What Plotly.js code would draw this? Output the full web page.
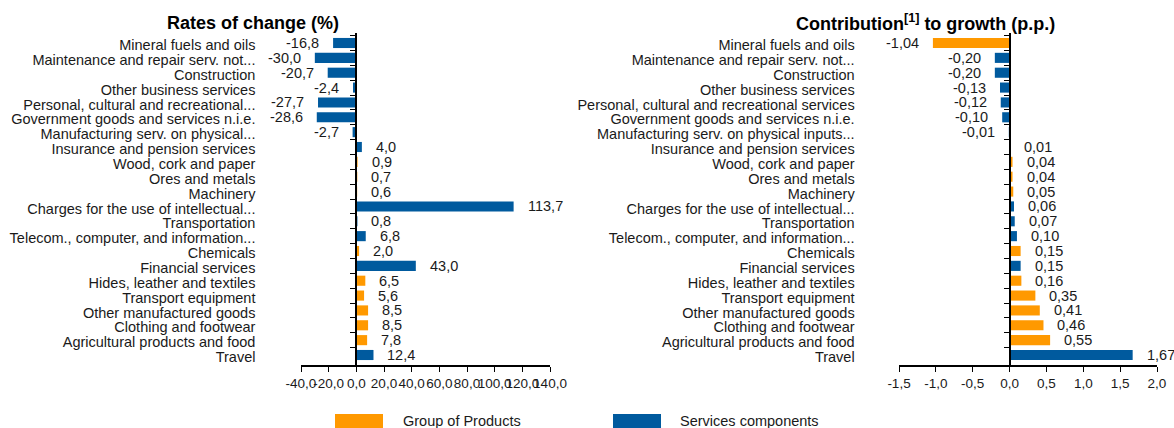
<!DOCTYPE html>
<html><head><meta charset="utf-8">
<script src="https://cdn.plot.ly/plotly-3.0.1.min.js"></script>
<style>html,body{margin:0;padding:0;background:#fff}#chart{width:1174px;height:428px}</style>
</head><body><div id="chart"></div><script>
// ---- data ----
const leftLabels = [
  "Mineral fuels and oils","Maintenance and repair serv. not...","Construction","Other business services",
  "Personal, cultural and recreational...","Government goods and services n.i.e.","Manufacturing serv. on physical...",
  "Insurance and pension services","Wood, cork and paper","Ores and metals","Machinery",
  "Charges for the use of intellectual...","Transportation","Telecom., computer, and information...",
  "Chemicals","Financial services","Hides, leather and textiles","Transport equipment",
  "Other manufactured goods","Clothing and footwear","Agricultural products and food","Travel"];
const rightLabels = [
  "Mineral fuels and oils","Maintenance and repair serv. not...","Construction","Other business services",
  "Personal, cultural and recreational services","Government goods and services n.i.e.","Manufacturing serv. on physical inputs...",
  "Insurance and pension services","Wood, cork and paper","Ores and metals","Machinery",
  "Charges for the use of intellectual...","Transportation","Telecom., computer, and information...",
  "Chemicals","Financial services","Hides, leather and textiles","Transport equipment",
  "Other manufactured goods","Clothing and footwear","Agricultural products and food","Travel"];
const rateValues = [-16.8,-30.0,-20.7,-2.4,-27.7,-28.6,-2.7,4.0,0.9,0.7,0.6,113.7,0.8,6.8,2.0,43.0,6.5,5.6,8.5,8.5,7.8,12.4];
const rateGroups = ["S","S","S","S","S","S","S","S","P","P","P","S","S","S","P","S","P","P","P","P","P","S"];
const contribValues = [-1.04,-0.20,-0.20,-0.13,-0.12,-0.10,-0.01,0.01,0.04,0.04,0.05,0.06,0.07,0.10,0.15,0.15,0.16,0.35,0.41,0.46,0.55,1.67];
const contribGroups = ["P","S","S","S","S","S","S","S","P","P","P","S","S","S","P","S","P","P","P","P","P","S"];
const leftTicks = [-40,-20,0,20,40,60,80,100,120,140];
const rightTicks = [-1.5,-1.0,-0.5,0.0,0.5,1.0,1.5,2.0];
const groupNames = {P:"Group of Products", S:"Services components"};
const groupColors = {P:"#FF9900", S:"#005A9E"};
const leftTitle = "Rates of change (%)";
const rightTitle = "Contribution<sup>[1]</sup> to growth (p.p.)";

// ---- layout helpers ----
const W = 1174, H = 428;
const px = v => v / W, py = v => 1 - v / H;
const FONT = "Liberation Sans, Arial, sans-serif";
const TXT = "#1a1a1a";
const fmt = (v, d) => v.toFixed(d).replace(".", ",");

const traces = [];
function addTraces(labels, values, groups, xa, ya) {
  ["P","S"].forEach(g => {
    traces.push({
      type: "bar", orientation: "h", name: groupNames[g],
      y: labels, x: values.map((v,i) => groups[i] === g ? v : null),
      xaxis: xa, yaxis: ya, marker: {color: groupColors[g], line: {width: 0}},
      showlegend: false, hoverinfo: "skip"
    });
  });
}
addTraces(leftLabels, rateValues, rateGroups, "x", "y");
addTraces(rightLabels, contribValues, contribGroups, "x2", "y2");

const annotations = [];
function addValueLabels(labels, values, decimals, xr, yr) {
  values.forEach((v,i) => {
    annotations.push({
      x: v, y: labels[i], xref: xr, yref: yr, text: fmt(v, decimals), showarrow: false,
      xanchor: v < 0 ? "right" : "left", xshift: v < 0 ? -12 : 12, yshift: 0,
      font: {family: FONT, size: 14.5, color: TXT}
    });
  });
}
addValueLabels(leftLabels, rateValues, 1, "x", "y");
addValueLabels(rightLabels, contribValues, 2, "x2", "y2");

annotations.push({text: "<b>" + leftTitle + "</b>", xref: "paper", yref: "paper", x: px(253), y: py(23),
  xanchor: "center", yanchor: "middle", showarrow: false, font: {family: FONT, size: 18, color: "#000"}});
annotations.push({text: "<b>" + rightTitle + "</b>", xref: "paper", yref: "paper", x: px(925), y: py(23),
  xanchor: "center", yanchor: "middle", showarrow: false, font: {family: FONT, size: 18, color: "#000"}});

// legend (manual wide swatches)
const shapes = [];
[["P", 335, 401], ["S", 613, 678]].forEach(([g, sx, tx]) => {
  shapes.push({type: "rect", xref: "paper", yref: "paper", x0: px(sx), x1: px(sx + 48), y0: py(428), y1: py(414),
    fillcolor: groupColors[g], line: {width: 0}});
  annotations.push({text: groupNames[g], xref: "paper", yref: "paper", x: px(tx), y: py(421),
    xanchor: "left", yanchor: "middle", showarrow: false, font: {family: FONT, size: 14.5, color: TXT}});
});

const yDom = [py(365), py(33)];
const lDom = [px(301), px(550)], rDom = [px(899), px(1157)];
const lRange = [leftTicks[0], leftTicks[leftTicks.length-1]];
const rRange = [rightTicks[0], rightTicks[rightTicks.length-1]];
const zeroPos = (dom, r) => dom[0] + (dom[1]-dom[0]) * (0 - r[0]) / (r[1]-r[0]);

function xAxis(dom, range, ticks, dec, anchor) {
  return {domain: dom, range: range, anchor: anchor, tickmode: "array", tickvals: ticks,
    ticktext: ticks.map(t => fmt(t, dec)), tickangle: 0, ticks: "outside", ticklen: 5, tickwidth: 1,
    tickcolor: "#000", showline: true, linecolor: "#000", linewidth: 2, showgrid: false, zeroline: false,
    automargin: false, tickfont: {family: FONT, size: 13.5, color: TXT}, fixedrange: true};
}
function yAxis(pos, standoff) {
  return {type: "category", domain: yDom, anchor: "free", position: pos, autorange: "reversed",
    tickmode: "linear", tick0: 0, dtick: 1, tickson: "boundaries", ticks: "outside", ticklen: 5, tickwidth: 1,
    tickcolor: "#000", showline: true, linecolor: "#000", linewidth: 2, showgrid: false, zeroline: false,
    ticklabelstandoff: standoff, ticklabelshift: -2, automargin: false,
    tickfont: {family: FONT, size: 14.5, color: TXT}, fixedrange: true};
}

const layout = {
  width: W, height: H, margin: {l: 0, r: 0, t: 0, b: 0}, paper_bgcolor: "#fff", plot_bgcolor: "rgba(0,0,0,0)",
  barmode: "overlay", bargap: 0.32, showlegend: false, separators: ", ",
  font: {family: FONT, size: 13, color: TXT},
  xaxis: xAxis(lDom, lRange, leftTicks, 1, "y"),
  xaxis2: xAxis(rDom, rRange, rightTicks, 1, "y2"),
  yaxis: yAxis(zeroPos(lDom, lRange), 97),
  yaxis2: yAxis(zeroPos(rDom, rRange), 151),
  annotations: annotations, shapes: shapes
};
Plotly.newPlot("chart", traces, layout, {displayModeBar: false, staticPlot: true});
</script></body></html>
